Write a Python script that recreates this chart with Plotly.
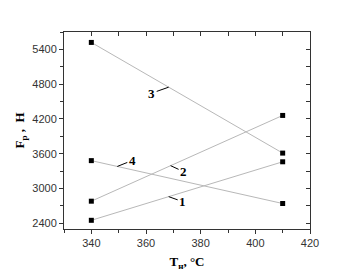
import plotly.graph_objects as go
import numpy as np

temps = [340, 410]
series = {
    "1": [2450, 3460],
    "2": [2780, 4260],
    "3": [5520, 3610],
    "4": [3480, 2740],
}
# label anchor x (data) and text offset (px)
label_x = {"1": 368.3, "2": 369.0, "3": 368.3, "4": 349.5}
label_off = {"1": (14, 5), "2": (13, 6), "3": (-17, 6), "4": (15, -6)}

x_ticks = [340, 360, 380, 400, 420]
y_ticks = [2400, 3000, 3600, 4200, 4800, 5400]

fig = go.Figure()
for name, vals in series.items():
    fig.add_trace(go.Scatter(
        x=temps, y=vals, mode="lines+markers",
        line=dict(color="#b8b8b8", width=1),
        marker=dict(symbol="square", size=5, color="black"),
        showlegend=False, name=name))

# invisible trace on secondary axes to show them
fig.add_trace(go.Scatter(x=[temps[0]], y=[series["1"][0]], xaxis="x2", yaxis="y2",
                         mode="markers", marker=dict(opacity=0), showlegend=False,
                         hoverinfo="skip"))

for name, vals in series.items():
    lx = label_x[name]
    ly = float(np.interp(lx, temps, vals)) if vals[0] < vals[1] else \
        float(vals[0] + (vals[1] - vals[0]) * (lx - temps[0]) / (temps[1] - temps[0]))
    ax, ay = label_off[name]
    fig.add_annotation(x=lx, y=ly, text="<b>%s</b>" % name, showarrow=True,
                       arrowhead=0, arrowwidth=1, arrowcolor="black",
                       ax=ax, ay=ay, standoff=0,
                       font=dict(family="Liberation Serif", size=13, color="black"))

axis_font = dict(family="Liberation Sans", size=11, color="#333333")
fig.update_layout(
    width=360, height=278,
    margin=dict(l=64, r=50, t=32, b=46),
    paper_bgcolor="white", plot_bgcolor="white",
    xaxis=dict(range=[330, 420], tickvals=x_ticks, ticks="outside", ticklen=4,
               tickcolor="#333", showline=True, linecolor="#333", linewidth=1,
               showgrid=False, zeroline=False, tickfont=axis_font,
               minor=dict(dtick=10, tick0=330, ticks="outside", ticklen=3, tickcolor="#333"),
               title=dict(text="<b>T<sub>н</sub>, °C</b>", standoff=8,
                          font=dict(family="Liberation Serif", size=13, color="black"))),
    yaxis=dict(range=[2300, 5700], tickvals=y_ticks, ticks="outside", ticklen=4,
               tickcolor="#333", showline=True, linecolor="#333", linewidth=1,
               showgrid=False, zeroline=False, tickfont=axis_font,
               minor=dict(dtick=300, tick0=2400, ticks="outside", ticklen=3, tickcolor="#333"),
               title=dict(text="<b>F<sub>p</sub> ,  H</b>", standoff=4,
                          font=dict(family="Liberation Serif", size=13, color="black"))),
    xaxis2=dict(range=[330, 420], overlaying="x", side="top", dtick=10, tick0=330,
                ticks="inside", ticklen=4, tickcolor="#333", showticklabels=False,
                showline=True, linecolor="#333", linewidth=1, showgrid=False, zeroline=False),
    yaxis2=dict(range=[2300, 5700], overlaying="y", side="right", dtick=300, tick0=2400,
                ticks="inside", ticklen=4, tickcolor="#333", showticklabels=False,
                showline=True, linecolor="#333", linewidth=1, showgrid=False, zeroline=False),
)
fig.write_html("out.html")
